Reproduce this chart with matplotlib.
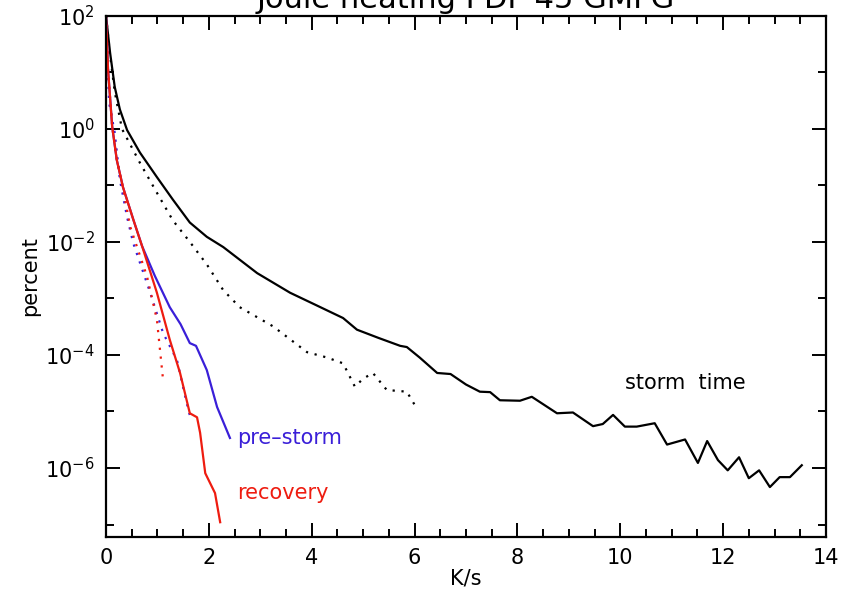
import matplotlib
matplotlib.use("Agg")
import matplotlib.pyplot as plt
from matplotlib.ticker import FixedLocator, MultipleLocator, LogFormatterMathtext

# storm time, solid
storm_x = [0.0, 0.08, 0.17, 0.27, 0.41, 0.66, 0.99, 1.3, 1.63, 1.96, 2.28, 2.94,
           3.58, 4.1, 4.61, 4.88, 5.3, 5.72, 5.85, 6.1, 6.44, 6.7, 7.0, 7.27,
           7.47, 7.66, 8.05, 8.28, 8.77, 9.08, 9.47, 9.66, 9.86, 10.09, 10.32,
           10.67, 10.91, 11.26, 11.51, 11.69, 11.90, 12.09, 12.31, 12.50, 12.70,
           12.91, 13.10, 13.30, 13.53]
storm_y = [100, 22, 5.5, 2.2, 0.95, 0.38, 0.14, 0.056, 0.022, 0.0123, 0.0081,
           0.0028, 0.00126, 0.00075, 0.00045, 0.00028, 0.0002, 0.000145,
           0.000138, 9.0e-5, 4.8e-5, 4.6e-5, 3.0e-5, 2.24e-5, 2.2e-5, 1.58e-5,
           1.55e-5, 1.82e-5, 9.3e-6, 9.6e-6, 5.5e-6, 6.0e-6, 8.7e-6, 5.4e-6,
           5.4e-6, 6.2e-6, 2.6e-6, 3.2e-6, 1.23e-6, 3.0e-6, 1.38e-6, 9.1e-7,
           1.55e-6, 6.6e-7, 9.1e-7, 4.6e-7, 6.9e-7, 6.9e-7, 1.12e-6]

# storm time, dotted
storm_fit_x = [0.0, 0.08, 0.17, 0.31, 0.66, 0.99, 1.3, 1.63, 1.96, 2.28, 2.6,
               3.25, 3.91, 4.3, 4.61, 4.84, 5.0, 5.19, 5.46, 5.85, 6.0]
storm_fit_y = [100, 20, 4.5, 1.0, 0.25, 0.074, 0.024, 0.01, 0.004, 0.0014,
               0.0007, 0.00032, 0.000112, 9.0e-5, 7.1e-5, 2.75e-5, 3.8e-5,
               4.8e-5, 2.4e-5, 2.24e-5, 1.32e-5]

# pre-storm, solid
pre_x = [0.0, 0.04, 0.12, 0.21, 0.33, 0.53, 0.7, 0.95, 1.24, 1.45, 1.63, 1.75,
         1.96, 2.16, 2.41]
pre_y = [100, 11, 1.1, 0.28, 0.093, 0.025, 0.0085, 0.0025, 0.0007, 0.00035,
         0.000162, 0.000145, 5.4e-5, 1.2e-5, 3.4e-6]

# pre-storm, dotted
pre_fit_x = [0.0, 0.06, 0.17, 0.27, 0.41, 0.53, 0.86, 1.11, 1.38, 1.57, 1.64]
pre_fit_y = [100, 2.9, 0.85, 0.126, 0.0275, 0.0095, 0.00126, 0.000245,
             8.1e-5, 1.41e-5, 7.9e-6]

# recovery, solid
rec_x = [0.0, 0.04, 0.12, 0.21, 0.33, 0.53, 0.7, 0.99, 1.24, 1.44, 1.63, 1.77,
         1.83, 1.93, 2.12, 2.22]
rec_y = [100, 11, 1.1, 0.28, 0.093, 0.025, 0.0085, 0.00126, 0.000186,
         4.8e-5, 9.3e-6, 7.9e-6, 4.2e-6, 8.1e-7, 3.6e-7, 1.1e-7]

# recovery, dotted
rec_fit_x = [0.0, 0.04, 0.12, 0.21, 0.33, 0.47, 0.80, 0.99, 1.11]
rec_fit_y = [100, 11, 1.1, 0.28, 0.09, 0.0186, 0.0024, 0.00042, 3.6e-5]

plt.rcParams["font.family"] = "DejaVu Sans"
fig = plt.figure(figsize=(8.48, 5.95), dpi=100)
ax = fig.add_axes([0.125, 0.0975, 0.849, 0.876])

red = "#ee1c10"
blue = "#3a1fd8"
dots = (0, (1, 3))
ax.plot(storm_x, storm_y, color="black", lw=1.6)
ax.plot(storm_fit_x, storm_fit_y, color="black", lw=1.6, ls=dots)
ax.plot(pre_x, pre_y, color=blue, lw=1.6)
ax.plot(pre_fit_x, pre_fit_y, color=blue, lw=1.6, ls=dots)
ax.plot(rec_fit_x, rec_fit_y, color=red, lw=1.6, ls=dots)
ax.plot(rec_x, rec_y, color=red, lw=1.6)

ax.set_yscale("log")
ax.set_xlim(0, 14)
ax.set_ylim(10 ** -7.22, 100)
ax.xaxis.set_major_locator(MultipleLocator(2))
ax.xaxis.set_minor_locator(MultipleLocator(0.5))
ax.yaxis.set_major_locator(FixedLocator([1e-6, 1e-4, 1e-2, 1, 1e2]))
ax.yaxis.set_minor_locator(FixedLocator([1e-7, 1e-5, 1e-3, 1e-1, 1e1]))
ax.yaxis.set_major_formatter(LogFormatterMathtext())
ax.yaxis.set_minor_formatter(plt.NullFormatter())

ax.tick_params(which="both", direction="in", top=True, right=True,
               width=1.4, labelsize=15, pad=8)
ax.tick_params(which="major", length=10)
ax.tick_params(which="minor", length=6)
for s in ax.spines.values():
    s.set_linewidth(1.6)

ax.set_xlabel("K/s", fontsize=15, labelpad=0)
ax.set_ylabel("percent", fontsize=15, labelpad=4)
# title sits high, partly above the canvas
ax.text(0.5, 1.014, "Joule heating PDF 45 GMFG", fontsize=22,
        ha="center", va="baseline", transform=ax.transAxes)

ax.text(2.55, 10 ** -5.47, "pre\u2013storm", color=blue, fontsize=15, va="center")
ax.text(2.55, 10 ** -6.44, "recovery", color=red, fontsize=15, va="center")
ax.text(10.09, 10 ** -4.5, "storm  time", color="black", fontsize=15, va="center")

fig.savefig("out.png", dpi=100)
